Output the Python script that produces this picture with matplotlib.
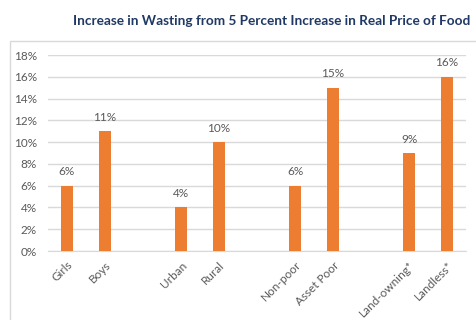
import matplotlib
matplotlib.use("Agg")
import matplotlib.pyplot as plt
from matplotlib.patches import Rectangle
from matplotlib.ticker import FuncFormatter

plt.rcParams['font.family'] = ['Lato', 'DejaVu Sans']

# data (empty strings are the gaps between groups)
categories = ["Girls", "Boys", "", "Urban", "Rural", "", "Non-poor", "Asset Poor", "", "Land-owning*", "Landless*"]
values = [6, 11, None, 4, 10, None, 6, 15, None, 9, 16]
title = "Increase in Wasting from 5 Percent Increase in Real Price of Food"

bar_color = "#ED7D31"
text_gray = "#595959"
grid_gray = "#D9D9D9"

fig = plt.figure(figsize=(4.77, 3.2), dpi=100)
ax = fig.add_axes([0.1006, 0.2156, 0.8764, 0.6125])

# outer chart frame
fig.patches.append(Rectangle((0.022, -0.05), 1.05, 0.922, transform=fig.transFigure,
                             fill=False, edgecolor=grid_gray, linewidth=1))

xs = [i for i, v in enumerate(values) if v is not None]
vs = [v / 100 for v in values if v is not None]
ax.bar(xs, vs, width=0.31, color=bar_color, zorder=3)

for x, v in zip(xs, vs):
    ax.annotate(f"{round(v * 100)}%", (x, v), xytext=(0, 6), textcoords="offset points",
                ha="center", va="bottom", fontsize=8.5, color=text_gray)

ax.set_xlim(-0.5, len(categories) - 0.5)
ax.set_ylim(0, 0.18)
ax.set_yticks([i / 100 for i in range(0, 19, 2)])
ax.yaxis.set_major_formatter(FuncFormatter(lambda y, p: f"{round(y * 100)}%"))

ax.set_xticks(xs)
ax.set_xticklabels([categories[i] for i in xs], rotation=45, ha="right",
                   rotation_mode="anchor", fontsize=8.5, color=text_gray)
ax.tick_params(axis="y", labelsize=8.5, labelcolor=text_gray, length=0, pad=8)
ax.tick_params(axis="x", length=0, pad=6)

ax.grid(axis="y", color=grid_gray, linewidth=1, zorder=0)
for s in ["top", "right", "left"]:
    ax.spines[s].set_visible(False)
ax.spines["bottom"].set_color(grid_gray)

fig.text(0.57, 0.935, title, ha="center", va="center", fontsize=9.8,
         fontweight="bold", color="#1F3864")

fig.savefig("out.png", dpi=100)
